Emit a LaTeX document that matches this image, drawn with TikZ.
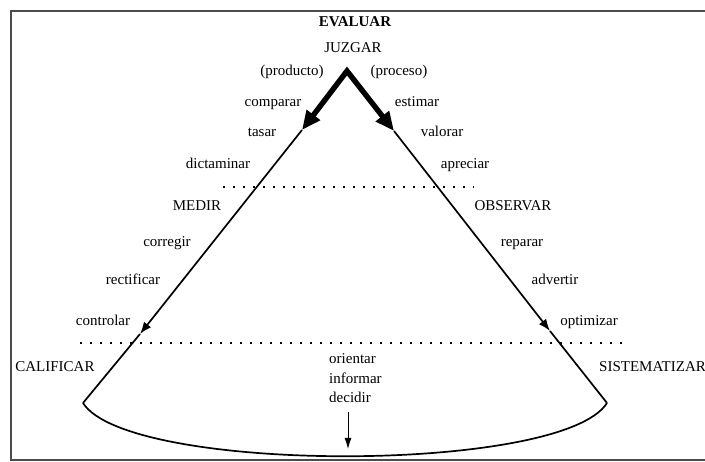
\documentclass[tikz,border=0pt]{standalone}
\usepackage{fontspec}
\setmainfont{Liberation Serif}
\usetikzlibrary{arrows.meta}
\begin{document}
\begin{tikzpicture}[x=1pt,y=-1pt,
  lbl/.style={font=\fontsize{15}{18}\selectfont, inner sep=0pt, text height=0.68em, text depth=0.2em},
  head/.style={lbl, font=\fontsize{15}{18}\selectfont\bfseries},
  thick arrow/.style={line width=5.4pt, line join=miter, {Triangle[length=19pt,width=16pt]}-{Triangle[length=19pt,width=16pt]}},
  side/.style={line width=1.7pt, -{Latex[length=12pt,width=9pt]}},
  sideplain/.style={line width=1.7pt},
  dotline/.style={line width=2pt, dash pattern=on 2pt off 8pt},
  framel/.style={line width=2.2pt, draw=black!70},
  bowl/.style={line width=1.7pt},
  down/.style={line width=0.9pt, -{Latex[length=11pt,width=7pt]}}
]
\useasboundingbox (0,0) rectangle (705,462);
% frame
\coordinate (f1) at (706,11);
\coordinate (f2) at (11,11);
\coordinate (f3) at (11,460);
\coordinate (f4) at (706,460);
\draw[framel] (f1) -- (f2) -- (f3) -- (f4);

% geometry
\coordinate (apex) at (347,71);
\coordinate (lt) at (302,130);
\coordinate (rt) at (394,131);
\coordinate (lm) at (140,334);
\coordinate (rm) at (550,331);
\coordinate (lb) at (83,403);
\coordinate (rb) at (607,403);

\draw[thick arrow] (lt) -- (apex) -- (rt);
\draw[side] (lt) -- (lm);
\draw[sideplain] (lm) -- (lb);
\draw[side] (rt) -- (rm);
\draw[sideplain] (rm) -- (rb);
\draw[bowl] (lb) .. controls (128,474) and (562,474) .. (rb);

% dotted lines
\coordinate (d1a) at (223,187);
\coordinate (d1b) at (474,187);
\coordinate (d2a) at (80,343);
\coordinate (d2b) at (628,343);
\draw[dotline] (d1a) -- (d1b);
\draw[dotline] (d2a) -- (d2b);

% labels
\node[head] (evaluar) at (355,24) {EVALUAR};
\node[lbl] (juzgar) at (353,50) {JUZGAR};
\node[lbl] (producto) at (292,73) {(producto)};
\node[lbl] (proceso) at (399,73) {(proceso)};
\node[lbl] (comparar) at (273,104) {comparar};
\node[lbl] (estimar) at (417,104) {estimar};
\node[lbl] (tasar) at (262,134) {tasar};
\node[lbl] (valorar) at (442,134) {valorar};
\node[lbl] (dictaminar) at (218,166) {dictaminar};
\node[lbl] (apreciar) at (465,166) {apreciar};
\node[lbl] (medir) at (197,208) {MEDIR};
\node[lbl] (observar) at (513,208) {OBSERVAR};
\node[lbl] (corregir) at (167,244) {corregir};
\node[lbl] (reparar) at (522,244) {reparar};
\node[lbl] (rectificar) at (133,282) {rectificar};
\node[lbl] (advertir) at (555,282) {advertir};
\node[lbl] (controlar) at (103,323) {controlar};
\node[lbl] (optimizar) at (589,323) {optimizar};
\node[lbl] (calificar) at (55,369) {CALIFICAR};
\node[lbl, anchor=west] (sistematizar) at (599,369) {SISTEMATIZAR};
\node[lbl, anchor=west] (orientar) at (329,361) {orientar};
\node[lbl, anchor=west] (informar) at (329,381) {informar};
\node[lbl, anchor=west] (decidir) at (329,400) {decidir};

\coordinate (ds) at (348,412);
\coordinate (de) at (348,449);
\draw[down] (ds) -- (de);
\end{tikzpicture}
\end{document}
